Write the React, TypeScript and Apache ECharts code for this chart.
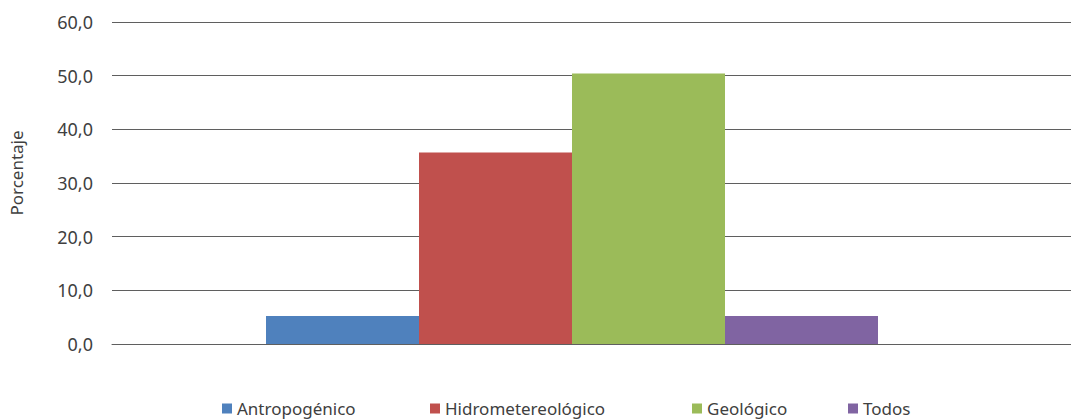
import React, { useEffect, useRef } from "react";
import * as echarts from "echarts";

const seriesNames = ["Antropogénico", "Hidrometereológico", "Geológico", "Todos"];
const values = [5.2, 35.7, 50.4, 5.2];
const colors = ["#4F81BD", "#C0504D", "#9BBB59", "#8064A2"];
const legendLefts = [222, 430, 692, 848];
const yTicks = { min: 0, max: 60, interval: 10 };
const axisTitle = "Porcentaje";

const FONT = "'Noto Sans', 'Open Sans', sans-serif";
const GRID_COLOR = "#5f5f5f";
const TEXT_COLOR = "#404040";

export default function App() {
  const ref = useRef<HTMLDivElement>(null);
  useEffect(() => {
    document.body.style.margin = "0";
    const chart = echarts.init(ref.current!, null, { renderer: "svg" });
    const yCommon = {
      type: "value" as const,
      min: yTicks.min,
      max: yTicks.max,
      interval: yTicks.interval,
      splitLine: { show: true, lineStyle: { color: GRID_COLOR, width: 1 } },
      axisLine: { show: false },
      axisTick: { show: false },
    };
    chart.setOption({
      animation: false,
      backgroundColor: "#ffffff",
      textStyle: { fontFamily: FONT },
      grid: [
        { left: 111, top: 22, width: 921, height: 322 },
        { left: 1032, top: 22, width: 39, height: 322 },
      ],
      xAxis: [0, 1].map((g) => ({
        type: "category",
        gridIndex: g,
        data: [""],
        axisLine: { show: true, lineStyle: { color: GRID_COLOR } },
        axisTick: { show: false },
        axisLabel: { show: false },
      })),
      yAxis: [
        {
          ...yCommon,
          gridIndex: 0,
          name: axisTitle,
          nameLocation: "middle",
          nameGap: 87,
          nameTextStyle: {
            fontSize: 17,
            color: TEXT_COLOR,
            fontFamily: FONT,
            padding: [0, 0, 0, 20],
          },
          axisLabel: {
            fontSize: 18,
            color: TEXT_COLOR,
            fontFamily: FONT,
            margin: 19,
            formatter: (v: number) => v.toFixed(1).replace(".", ","),
          },
        },
        {
          ...yCommon,
          gridIndex: 1,
          axisLabel: { show: false },
        },
      ],
      legend: seriesNames.map((n, i) => ({
        left: legendLefts[i],
        top: 400,
        itemWidth: 10,
        itemHeight: 10,
        itemGap: 0,
        padding: 0,
        icon: "rect",
        textStyle: { fontSize: 17, color: TEXT_COLOR, fontFamily: FONT, lineHeight: 17 },
        data: [n],
      })),
      series: seriesNames.map((n, i) => ({
        name: n,
        type: "bar",
        xAxisIndex: 0,
        yAxisIndex: 0,
        barWidth: 153,
        barGap: "0%",
        itemStyle: { color: colors[i] },
        data: [values[i]],
      })),
    });
    return () => chart.dispose();
  }, []);
  return (
    <div
      ref={ref}
      style={{ position: "fixed", left: 0, top: 0, width: 1071, height: 419 }}
    />
  );
}
